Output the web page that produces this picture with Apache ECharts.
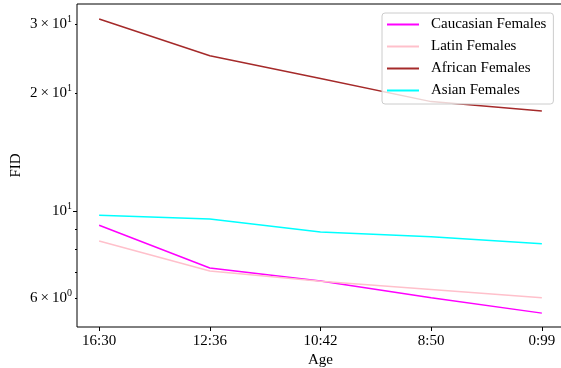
<!DOCTYPE html>
<html>
<head>
<meta charset="utf-8">
<script src="https://cdn.jsdelivr.net/npm/echarts@6/dist/echarts.min.js"></script>
<style>html,body{margin:0;padding:0;background:#fff}#c{width:561px;height:368px}</style>
</head>
<body>
<div id="c"></div>
<script>
const categories = ['16:30', '12:36', '10:42', '8:50', '0:99'];
const caucasian = [9.20, 7.16, 6.63, 6.01, 5.49];
const latin = [8.39, 7.03, 6.62, 6.31, 6.01];
const african = [30.95, 24.94, 21.82, 19.04, 18.01];
const asian = [9.76, 9.55, 8.85, 8.60, 8.26];
const yLabelValues = [6, 10, 20, 30];
const yMinorTicks = [6, 7, 8, 9, 20, 30];
const yMajorTicks = [10];

const FONT = '"Liberation Serif", "Times New Roman", "DejaVu Serif", serif';
const toPairs = arr => arr.map((v, i) => [i, v]);

function yFmt(v) {
  const r = Math.round(v);
  if (r === 10) return '{n|10}{s|1}';
  if (r < 10) return '{n|' + r + '\u2009×\u200910}{s|0}';
  return '{n|' + (r / 10) + '\u2009×\u200910}{s|1}';
}

const chart = echarts.init(document.getElementById('c'), null, {renderer: 'canvas'});
const mk = (name, data, color) => ({
  name, type: 'line', data: toPairs(data), symbol: 'none', showSymbol: false,
  lineStyle: {color, width: 1.5}, itemStyle: {color}, animation: false
});
const yBase = {
  type: 'log', min: 5.06, max: 33.8, position: 'left',
  splitLine: {show: false}, axisLine: {show: false, onZero: false}, minorTick: {show: false}
};
chart.setOption({
  animation: false,
  grid: {left: 77, top: 4, right: -3, bottom: 41, show: true, borderColor: '#000', borderWidth: 1,
         containLabel: false, outerBoundsMode: 'none'},
  legend: {
    orient: 'vertical', left: 382, top: 13,
    padding: [4, 7, 6, 5],
    icon: 'rect', itemWidth: 32, itemHeight: 2, itemGap: 7,
    backgroundColor: 'rgba(255,255,255,0.8)', borderColor: '#ccc', borderWidth: 1, borderRadius: 3,
    textStyle: {fontFamily: FONT, fontSize: 15, color: '#000', lineHeight: 15, padding: [0, 0, 0, 7]},
    data: ['Caucasian Females', 'Latin Females', 'African Females', 'Asian Females']
  },
  xAxis: {
    type: 'value', min: -0.2, max: 4.2,
    name: 'Age', nameLocation: 'middle', nameGap: 26, nameMoveOverlap: false,
    nameTextStyle: {fontFamily: FONT, fontSize: 15, color: '#000'},
    splitLine: {show: false},
    axisLine: {show: false, onZero: false},
    axisTick: {show: true, length: 4, lineStyle: {color: '#000'}, customValues: categories.map((c, i) => i)},
    axisLabel: {
      customValues: categories.map((c, i) => i), margin: 7,
      fontFamily: FONT, fontSize: 15, color: '#000',
      formatter: v => categories[Math.round(v)]
    }
  },
  yAxis: [
    Object.assign({}, yBase, {
      name: 'FID', nameLocation: 'middle', nameGap: 53, nameRotate: 90, nameMoveOverlap: false,
      nameTextStyle: {fontFamily: FONT, fontSize: 15, color: '#000'},
      axisTick: {show: true, length: 2, lineStyle: {color: '#000'}, customValues: yMinorTicks},
      axisLabel: {
        customValues: yLabelValues, margin: 5, formatter: yFmt,
        rich: {
          n: {fontFamily: FONT, fontSize: 15, color: '#000'},
          s: {fontFamily: FONT, fontSize: 10, color: '#000', padding: [0, 0, 9, 0]}
        }
      }
    }),
    Object.assign({}, yBase, {
      axisTick: {show: true, length: 4, lineStyle: {color: '#000'}, customValues: yMajorTicks},
      axisLabel: {show: false}
    })
  ],
  series: [
    mk('Caucasian Females', caucasian, '#ff00ff'),
    mk('Latin Females', latin, '#ffc0cb'),
    mk('African Females', african, '#a52a2a'),
    mk('Asian Females', asian, '#00ffff')
  ]
});
</script>
</body>
</html>
